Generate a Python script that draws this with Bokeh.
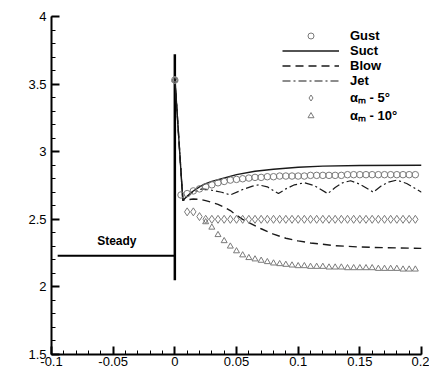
from bokeh.plotting import figure
from bokeh.models import (Range1d, SingleIntervalTicker, CustomJSTickFormatter, Label,
                          Legend, LegendItem)
from bokeh.embed import file_html
from bokeh.resources import INLINE
import math

# ---------------- data ----------------
steady_t = [-0.095, 0.0]
steady_cl = [2.23, 2.23]
jump_t = [0.0, 0.0]
jump_cl = [2.05, 3.72]

suct_t = [0.0, 0.0065, 0.01, 0.0135, 0.02, 0.024, 0.03, 0.038, 0.05, 0.065, 0.08, 0.1, 0.12, 0.15, 0.2]
suct_cl = [3.55, 2.64, 2.67, 2.70, 2.74, 2.76, 2.78, 2.80, 2.83, 2.855, 2.87, 2.885, 2.893, 2.898, 2.9]

blow_t = [0.0, 0.0065, 0.01, 0.015, 0.02, 0.025, 0.03, 0.035, 0.04, 0.045, 0.05, 0.055, 0.06,
          0.07, 0.08, 0.09, 0.1, 0.11, 0.12, 0.13, 0.15, 0.17, 0.2]
blow_cl = [3.55, 2.64, 2.645, 2.65, 2.648, 2.638, 2.625, 2.61, 2.59, 2.565, 2.53, 2.50, 2.475,
           2.43, 2.39, 2.36, 2.34, 2.325, 2.315, 2.305, 2.295, 2.29, 2.285]

jet_t = [0.0, 0.0065, 0.01, 0.015, 0.022, 0.03, 0.038, 0.045, 0.055, 0.063, 0.068, 0.075, 0.084,
         0.09, 0.097, 0.105, 0.113, 0.124, 0.13, 0.136, 0.1425, 0.15, 0.161, 0.167, 0.173, 0.18,
         0.188, 0.2]
jet_cl = [3.55, 2.64, 2.67, 2.70, 2.725, 2.715, 2.70, 2.68, 2.72, 2.745, 2.755, 2.74, 2.69,
          2.725, 2.755, 2.77, 2.75, 2.69, 2.735, 2.77, 2.785, 2.76, 2.70, 2.745, 2.775, 2.79,
          2.765, 2.70]

gust_t = [0.0, 0.005, 0.01, 0.015, 0.02, 0.025, 0.03, 0.035, 0.04, 0.045, 0.05, 0.055, 0.06,
          0.065, 0.07, 0.075, 0.08, 0.085, 0.09, 0.095, 0.1, 0.105, 0.11, 0.115, 0.12, 0.125,
          0.13, 0.135, 0.14, 0.145, 0.15, 0.155, 0.16, 0.165, 0.17, 0.175, 0.18, 0.185, 0.19, 0.195]
gust_cl = [3.53, 2.68, 2.69, 2.71, 2.725, 2.74, 2.755, 2.77, 2.78, 2.79, 2.795, 2.80, 2.805,
           2.81, 2.81, 2.815, 2.815, 2.82, 2.82, 2.82, 2.82, 2.82, 2.825, 2.825, 2.825, 2.825,
           2.825, 2.825, 2.83, 2.83, 2.83, 2.83, 2.83, 2.83, 2.83, 2.83, 2.83, 2.83, 2.83, 2.83]

a5_t = [0.0, 0.01, 0.015, 0.02, 0.025, 0.03, 0.035, 0.04, 0.045, 0.05, 0.055, 0.06, 0.065,
        0.07, 0.075, 0.08, 0.085, 0.09, 0.095, 0.1, 0.105, 0.11, 0.115, 0.12, 0.125, 0.13,
        0.135, 0.14, 0.145, 0.15, 0.155, 0.16, 0.165, 0.17, 0.175, 0.18, 0.185, 0.19, 0.195]
a5_cl = [3.53, 2.555, 2.555, 2.52, 2.50, 2.50, 2.50, 2.50, 2.50, 2.50, 2.50, 2.50, 2.50,
         2.50, 2.50, 2.50, 2.50, 2.50, 2.50, 2.50, 2.50, 2.50, 2.50, 2.50, 2.50, 2.50,
         2.50, 2.50, 2.50, 2.50, 2.50, 2.50, 2.50, 2.50, 2.50, 2.50, 2.50, 2.50, 2.50]

a10_t = [0.0, 0.025, 0.03, 0.035, 0.04, 0.045, 0.05, 0.055, 0.06, 0.065, 0.07, 0.075, 0.08,
         0.085, 0.09, 0.095, 0.1, 0.105, 0.11, 0.115, 0.12, 0.125, 0.13, 0.135, 0.14, 0.145,
         0.15, 0.155, 0.16, 0.165, 0.17, 0.175, 0.18, 0.185, 0.19, 0.195]
a10_cl = [3.53, 2.48, 2.44, 2.385, 2.34, 2.30, 2.265, 2.235, 2.215, 2.205, 2.195, 2.185, 2.175,
          2.17, 2.165, 2.16, 2.155, 2.155, 2.15, 2.15, 2.15, 2.145, 2.145, 2.145, 2.14, 2.14,
          2.14, 2.14, 2.14, 2.135, 2.135, 2.135, 2.135, 2.13, 2.13, 2.13]

x_start, x_end = -0.1, 0.2
y_start, y_end = 1.5, 4.0

FONT = "Liberation Sans"
LINE = "#1a1a1a"
MARK = "#7a7a7a"

# frame geometry on the canvas (pixels)
F_LEFT, F_RIGHT, F_TOP, F_BOTTOM = 51, 421, 16, 354
W, H = 429, 388

# ---------------- figure ----------------
p = figure(width=W, height=H, output_backend="svg", toolbar_location=None,
           x_range=Range1d(x_start, x_end), y_range=Range1d(y_start, y_end),
           min_border_left=F_LEFT, min_border_right=W - F_RIGHT,
           min_border_top=F_TOP, min_border_bottom=H - F_BOTTOM,
           title=None)
p.outline_line_color = None
p.xgrid.visible = False
p.ygrid.visible = False
p.background_fill_color = "white"
p.border_fill_color = "white"

p.xaxis.ticker = SingleIntervalTicker(interval=0.05, num_minor_ticks=5)
p.yaxis.ticker = SingleIntervalTicker(interval=0.5, num_minor_ticks=5)
p.xaxis.formatter = CustomJSTickFormatter(code="return (Math.round(tick*1000)/1000).toString();")
p.yaxis.formatter = CustomJSTickFormatter(code="return (Math.round(tick*1000)/1000).toString();")
for ax in (p.xaxis, p.yaxis):
    ax.axis_line_width = 2
    ax.axis_line_color = "black"
    ax.major_tick_in = 8
    ax.major_tick_out = 0
    ax.minor_tick_in = 4
    ax.minor_tick_out = 0
    ax.major_tick_line_width = 2
    ax.minor_tick_line_width = 1
    ax.major_tick_line_color = "black"
    ax.minor_tick_line_color = "black"
    ax.major_label_text_font = FONT
    ax.major_label_text_font_size = "13px"
    ax.major_label_text_color = "black"
p.xaxis.major_label_standoff = 2
p.yaxis.major_label_standoff = 5

# ---------------- glyphs ----------------
p.line(steady_t, steady_cl, line_color="black", line_width=2)
p.line(jump_t, jump_cl, line_color="black", line_width=2.5)

r_suct = p.line(suct_t, suct_cl, line_color=LINE, line_width=1.4)
r_blow = p.line(blow_t, blow_cl, line_color=LINE, line_width=1.4, line_dash="8 5")
r_jet = p.line(jet_t, jet_cl, line_color=LINE, line_width=1.2, line_dash="8 3 2 3")
r_gust = p.scatter(gust_t, gust_cl, marker="circle", size=6.5, line_color=MARK,
                   fill_color=None, line_width=1)
r_a5 = p.scatter(a5_t, a5_cl, marker="diamond", size=8, line_color=MARK,
                 fill_color=None, line_width=1)
r_a10 = p.scatter(a10_t, a10_cl, marker="triangle", size=6, line_color=MARK,
                  fill_color=None, line_width=1)

# ---------------- legend ----------------
legend = Legend(items=[
    LegendItem(label="Gust", renderers=[r_gust]),
    LegendItem(label="Suct", renderers=[r_suct]),
    LegendItem(label="Blow", renderers=[r_blow]),
    LegendItem(label="Jet", renderers=[r_jet]),
    LegendItem(label="\u03b1\u2098 - 5\u00b0", renderers=[r_a5]),
    LegendItem(label="\u03b1\u2098 - 10\u00b0", renderers=[r_a10]),
], location=(231, 230), glyph_width=57, glyph_height=15, label_height=15,
    label_standoff=11, spacing=-1, padding=0, margin=0,
    border_line_color=None, background_fill_alpha=0,
    label_text_font=FONT, label_text_font_style="bold", label_text_font_size="13px",
    label_text_color="black")
p.add_layout(legend)

# ---------------- texts ----------------
p.add_layout(Label(x=-0.047, y=2.34, text="Steady", text_align="center",
                   text_baseline="middle", text_font=FONT, text_font_style="bold",
                   text_font_size="12px", text_color="black"))

def xd(px):
    return x_start + (px - F_LEFT) * (x_end - x_start) / (F_RIGHT - F_LEFT)

def yd(py):
    return y_end - (py - F_TOP) * (y_end - y_start) / (F_BOTTOM - F_TOP)

p.add_layout(Label(x=0.05, y=yd(377), text="Flow time/s", text_align="center",
                   text_baseline="middle", text_font=FONT, text_font_style="bold",
                   text_font_size="15px", text_color="black"))
p.add_layout(Label(x=xd(15.5), y=yd(184), text="C", angle=math.pi / 2,
                   text_align="center", text_baseline="middle", text_font=FONT,
                   text_font_style="bold", text_font_size="15px", text_color="black"))
p.add_layout(Label(x=xd(22.5), y=yd(175.5), text="L", angle=math.pi / 2,
                   text_align="center", text_baseline="middle", text_font=FONT,
                   text_font_style="bold", text_font_size="9px", text_color="black"))

open("out.html", "w").write(file_html(p, INLINE))
